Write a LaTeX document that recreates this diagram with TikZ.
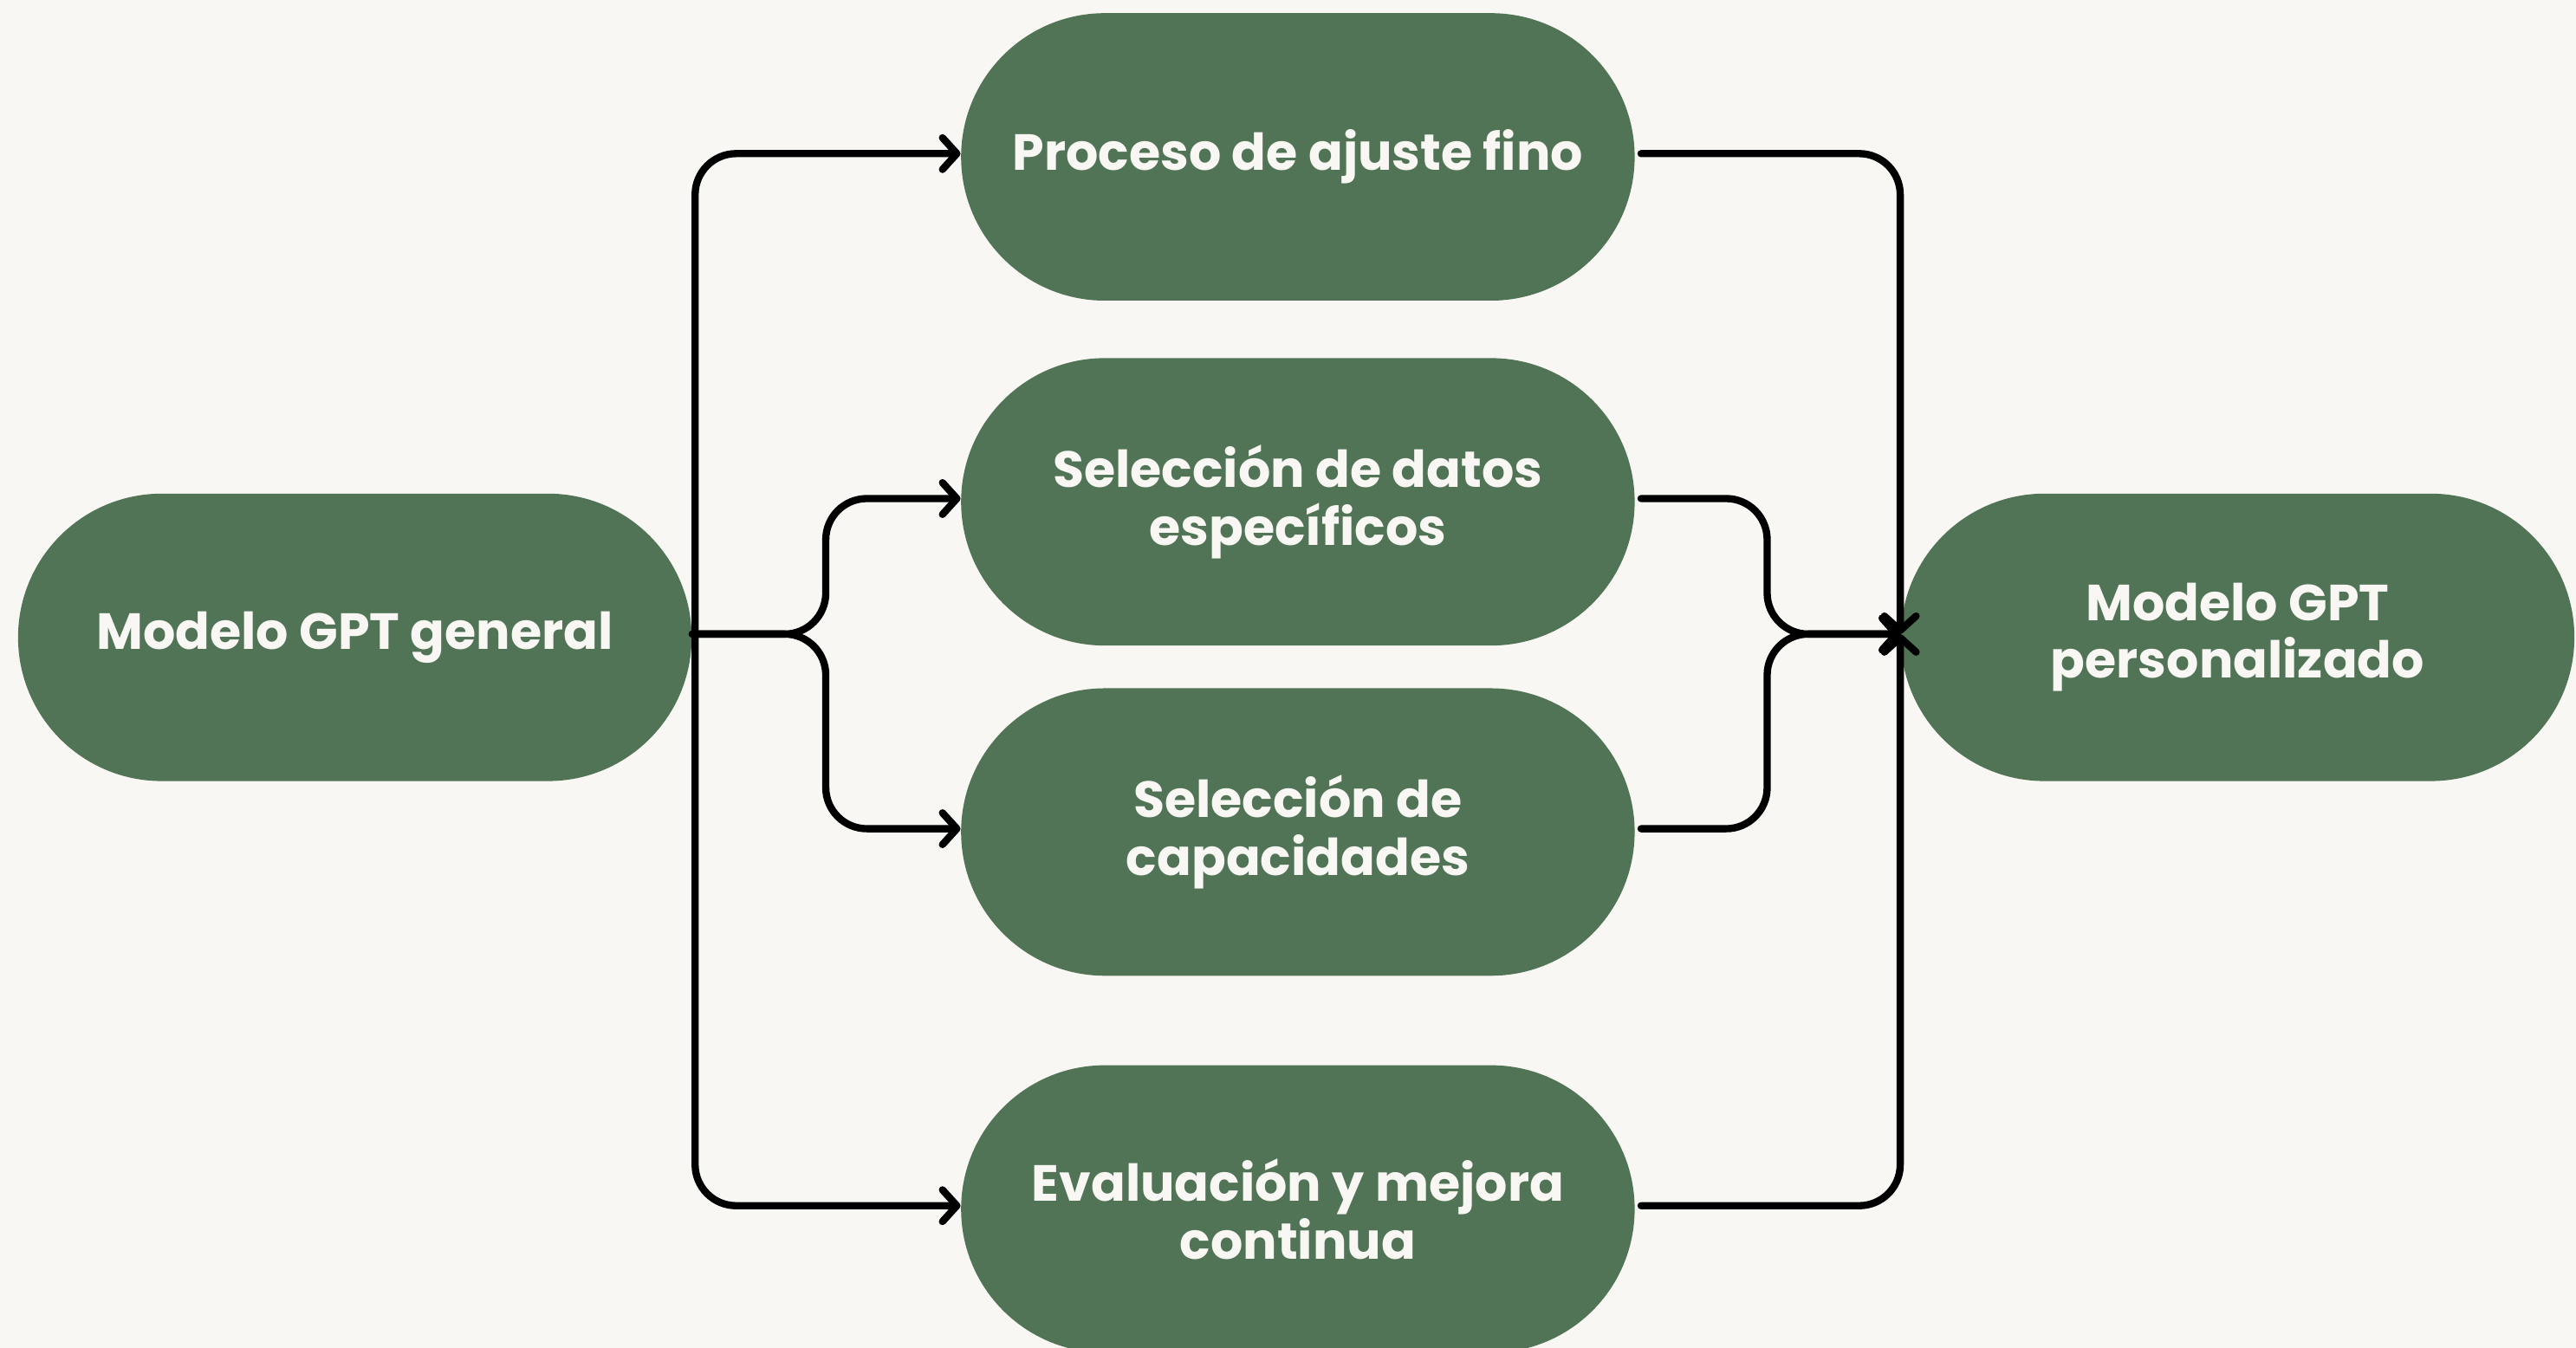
\documentclass[tikz,border=0pt]{standalone}
\usepackage{fontspec}
\setmainfont{Poppins}
\usepackage{xcolor}
\usetikzlibrary{arrows.meta, positioning, calc}
\definecolor{paperGreen}{RGB}{81, 116, 86}
\definecolor{paperCream}{RGB}{248, 247, 243}
\tikzset{
  etapa/.style={fill=paperGreen, text=paperCream, rounded corners=1.75cm,
    minimum width=8.2cm, minimum height=3.5cm, align=center,
    font=\fontsize{17.6}{20}\selectfont\bfseries},
  flujo/.style={line width=2.5pt, line cap=round, rounded corners=0.5cm,
    -{Straight Barb[length=5pt, width=11pt, round]}}
}
\begin{document}
\begin{tikzpicture}
        % Fondo
        \fill[paperCream] (0, 0) rectangle (31.36, -16.41);
        \useasboundingbox (0, 0) rectangle (31.36, -16.41);

        % Nodos
        \node[etapa] (gen) at (4.32, -7.76) {Modelo GPT general};
        \node[etapa] (fino) at (15.8, -1.91) {Proceso de ajuste fino};
        \node[etapa] (datos) at (15.8, -6.11) {Selección de datos\\específicos};
        \node[etapa] (capac) at (15.8, -10.13) {Selección de\\capacidades};
        \node[etapa] (eval) at (15.8, -14.72) {Evaluación y mejora\\continua};
        \node[etapa] (pers) at (27.24, -7.76) {Modelo GPT\\personalizado};

        % Flechas de entrada
        \draw[flujo] ([xshift=1pt]gen.east) |- ([yshift=0.04cm]fino.west);
        \draw[flujo] ([xshift=1pt]gen.east) |- ([yshift=0.04cm]eval.west);
        \draw[flujo] ([yshift=0.04cm]gen.east) -| ([xshift=-1.64cm, yshift=0.04cm]datos.west) -- ([yshift=0.04cm]datos.west);
        \draw[flujo] ([yshift=0.04cm]gen.east) -| ([xshift=-1.64cm, yshift=0.04cm]capac.west) -- ([yshift=0.04cm]capac.west);

        % Flechas de salida
        \draw[flujo] ([xshift=2pt, yshift=0.04cm]fino.east) -| ([yshift=0.04cm]pers.west);
        \draw[flujo] ([xshift=2pt, yshift=0.04cm]eval.east) -| ([yshift=0.04cm]pers.west);
        \draw[flujo] ([xshift=2pt, yshift=0.04cm]datos.east) -| ([xshift=-1.62cm, yshift=0.04cm]pers.west) -- ([yshift=0.04cm]pers.west);
        \draw[flujo] ([xshift=2pt, yshift=0.04cm]capac.east) -| ([xshift=-1.62cm, yshift=0.04cm]pers.west) -- ([yshift=0.04cm]pers.west);
    \end{tikzpicture}
\end{document}
